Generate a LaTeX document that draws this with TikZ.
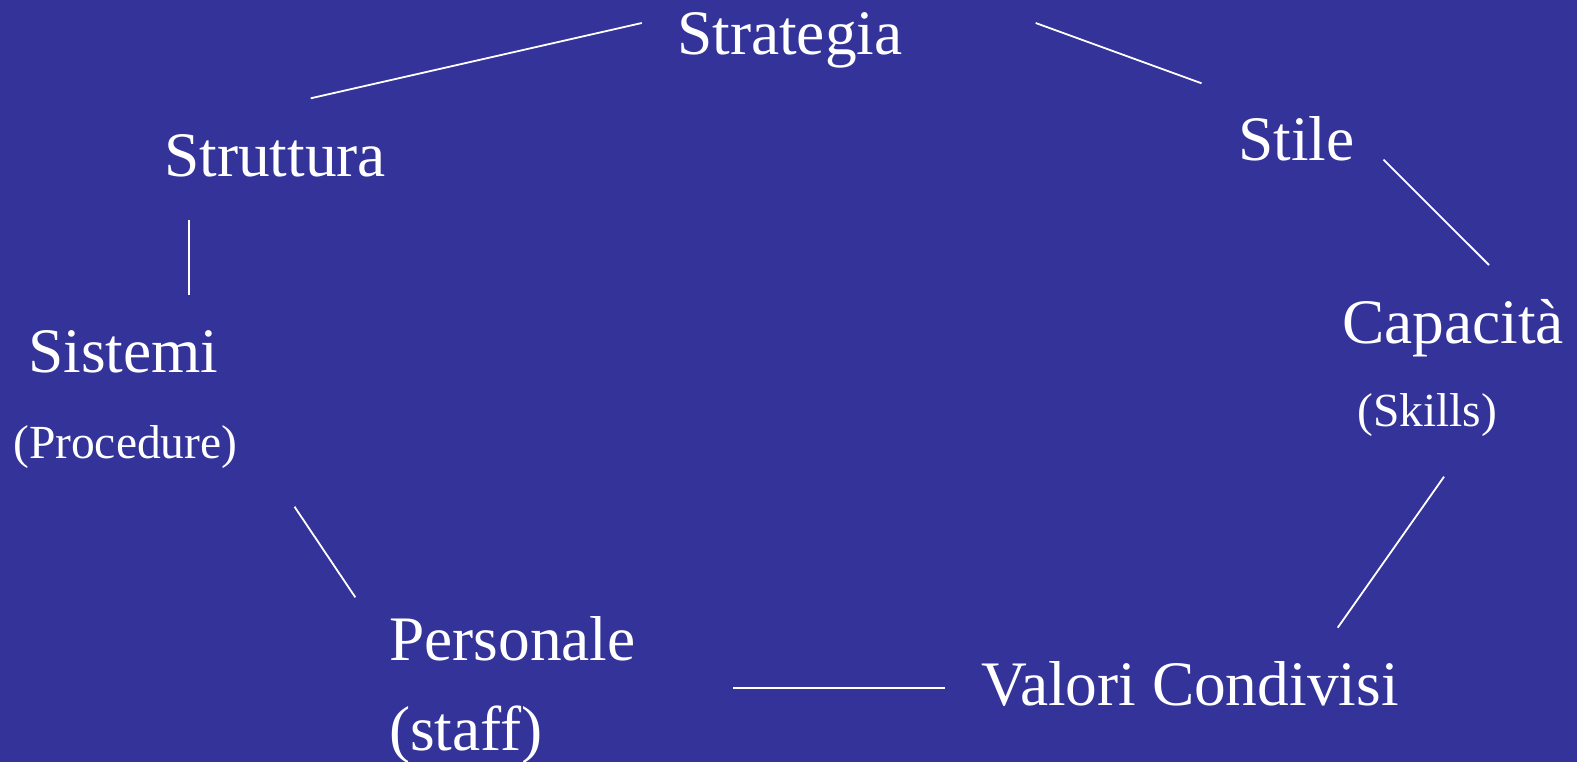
\documentclass[tikz,border=0pt]{standalone}
\usepackage{fontspec}
\setmainfont{Liberation Serif}
\definecolor{bgblue}{RGB}{51,51,153}
\tikzset{
  big/.style={text=white, inner sep=0pt, anchor=base west, font=\fontsize{63.4}{70}\selectfont},
  small/.style={text=white, inner sep=0pt, anchor=base west, font=\fontsize{47.5}{54}\selectfont},
  link/.style={draw=white, line width=1.8pt}
}
\begin{document}
\begin{tikzpicture}[x=1pt,y=-1pt]
\fill[bgblue] (0,0) rectangle (1577,762);
\useasboundingbox (0,0) rectangle (1577,762);
% labels
\node[big] (strategia) at (677,55) {Strategia};
\node[big] (struttura) at (164,177) {Struttura};
\node[big] (stile) at (1238,161) {Stile};
\node[big] (sistemi) at (28,372.3) {Sistemi};
\node[small] (procedure) at (13,458.3) {(Procedure)};
\node[big] (capacita) at (1342,343.3) {Capacità};
\node[small] (skills) at (1357,426.7) {(Skills)};
\node[big] (personale) at (389,660) {Personale};
\node[big] (staff) at (389,750.7) {(staff)};
\node[big] (valori) at (981,705) {Valori Condivisi};
% connector end points
\coordinate (a1) at (310.7,98.3);  \coordinate (a2) at (641.8,23);
\coordinate (b1) at (1035.7,23);   \coordinate (b2) at (1201.5,83.3);
\coordinate (c1) at (1383.5,159.7);\coordinate (c2) at (1489,265);
\coordinate (d1) at (189,220);     \coordinate (d2) at (189,295);
\coordinate (e1) at (1444,476.7);  \coordinate (e2) at (1337.7,627.7);
\coordinate (f1) at (294.5,506.7); \coordinate (f2) at (355.3,597.3);
\coordinate (g1) at (733.3,688.3); \coordinate (g2) at (944.7,688.3);
\draw[link] (a1) -- (a2);
\draw[link] (b1) -- (b2);
\draw[link] (c1) -- (c2);
\draw[link] (d1) -- (d2);
\draw[link] (e1) -- (e2);
\draw[link] (f1) -- (f2);
\draw[link] (g1) -- (g2);
\end{tikzpicture}
\end{document}
